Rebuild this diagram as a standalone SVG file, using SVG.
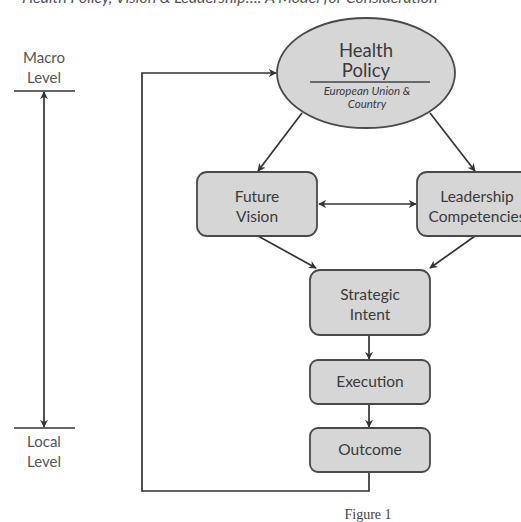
<svg xmlns="http://www.w3.org/2000/svg" width="521" height="522" viewBox="0 0 521 522">
  <style>
    .bg { fill: #ffffff; }
    .node { fill: #d6d6d6; stroke: #4a4a4a; stroke-width: 1.8; }
    .lbl { font-family: Lato, "Open Sans", "Liberation Sans", sans-serif; fill: #3a3a3a; text-anchor: middle; }
    .big { font-size: 18.5px; }
    .mid { font-size: 15.5px; }
    .sub { font-size: 11.5px; font-style: italic; }
    .side { font-family: Lato, "Open Sans", "Liberation Sans", sans-serif; font-size: 15px; fill: #555555; text-anchor: middle; }
    .wire { fill: none; stroke: #333333; stroke-width: 1.7; }
    .head { font-family: Lato, "Open Sans", "Liberation Sans", sans-serif; font-size: 16px; font-style: italic; fill: #555555; }
    .cap { font-family: "Liberation Serif", serif; font-size: 14px; fill: #444444; text-anchor: middle; }
  </style>
  <defs>
    <marker id="arr" viewBox="0 0 10 10" refX="9" refY="5" markerWidth="8" markerHeight="8" markerUnits="userSpaceOnUse" orient="auto-start-reverse">
      <path d="M0,0 L10,5 L0,10 L3,5 Z" fill="#333333"/>
    </marker>
  </defs>
  <rect class="bg" width="521" height="522"/>

  <!-- running header, clipped at the top edge -->
  <text class="head" x="22" y="3">Health Policy, Vision &amp; Leadership…: A Model for Consideration</text>

  <!-- connectors -->
  <g id="connectors">
    <!-- policy to vision / competencies -->
    <line class="wire" x1="302" y1="113" x2="258" y2="171" marker-end="url(#arr)"/>
    <line class="wire" x1="430" y1="113" x2="475" y2="171" marker-end="url(#arr)"/>
    <!-- vision <-> competencies -->
    <line class="wire" x1="319" y1="204" x2="416" y2="204" marker-start="url(#arr)" marker-end="url(#arr)"/>
    <!-- into strategic intent -->
    <line class="wire" x1="258" y1="236" x2="316" y2="268" marker-end="url(#arr)"/>
    <line class="wire" x1="475" y1="236" x2="430" y2="268" marker-end="url(#arr)"/>
    <!-- vertical chain -->
    <line class="wire" x1="369" y1="335" x2="369" y2="359" marker-end="url(#arr)"/>
    <line class="wire" x1="369" y1="404" x2="369" y2="427" marker-end="url(#arr)"/>
    <!-- feedback loop -->
    <polyline class="wire" points="369,472 369,491 142,491 142,73 276,73" marker-end="url(#arr)"/>
    <!-- level scale -->
    <line class="wire" x1="14" y1="91" x2="75" y2="91"/>
    <line class="wire" x1="14" y1="428" x2="75" y2="428"/>
    <line class="wire" x1="44" y1="92" x2="44" y2="427" marker-start="url(#arr)" marker-end="url(#arr)"/>
  </g>

  <g id="health-policy">
    <ellipse class="node" cx="366" cy="73" rx="89" ry="55"/>
    <text class="lbl big" x="366" y="57">Health</text>
    <text class="lbl big" x="366" y="77">Policy</text>
    <line x1="310" y1="82" x2="430" y2="82" stroke="#444444" stroke-width="1.6"/>
    <text class="lbl sub" x="367" y="95">European Union &amp;</text>
    <text class="lbl sub" x="367" y="108">Country</text>
  </g>

  <g id="future-vision">
    <rect class="node" x="197" y="172" width="120" height="64" rx="10"/>
    <text class="lbl mid" x="257" y="202">Future</text>
    <text class="lbl mid" x="257" y="222">Vision</text>
  </g>

  <g id="leadership-competencies">
    <rect class="node" x="417" y="172" width="120" height="64" rx="10"/>
    <text class="lbl mid" x="477" y="202">Leadership</text>
    <text class="lbl mid" x="477" y="222">Competencies</text>
  </g>

  <g id="strategic-intent">
    <rect class="node" x="310" y="270" width="120" height="65" rx="10"/>
    <text class="lbl mid" x="370" y="300">Strategic</text>
    <text class="lbl mid" x="370" y="320">Intent</text>
  </g>

  <g id="execution">
    <rect class="node" x="310" y="360" width="120" height="44" rx="8"/>
    <text class="lbl mid" x="370" y="387">Execution</text>
  </g>

  <g id="outcome">
    <rect class="node" x="310" y="428" width="120" height="44" rx="8"/>
    <text class="lbl mid" x="370" y="455">Outcome</text>
  </g>

  <g id="level-labels">
    <text class="side" x="44" y="63">Macro</text>
    <text class="side" x="44" y="83">Level</text>
    <text class="side" x="44" y="447">Local</text>
    <text class="side" x="44" y="467">Level</text>
  </g>

  <text class="cap" x="368" y="519">Figure 1</text>
</svg>
